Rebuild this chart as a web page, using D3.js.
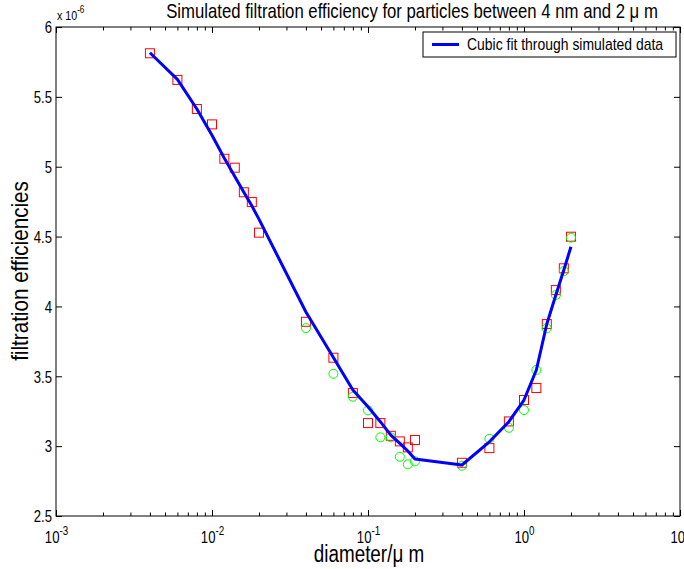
<!DOCTYPE html>
<html>
<head>
<meta charset="utf-8">
<script src="https://cdn.jsdelivr.net/npm/d3@7"></script>
<style>
  html, body { margin: 0; padding: 0; background: #fff; }
  svg { display: block; }
  svg text { font-family: Arial, "Liberation Sans", Helvetica, sans-serif; }
</style>
</head>
<body>
<svg id="chart" width="684" height="569"></svg>
<script>
// ---- data (efficiencies in units of 1e-6) ----
const diameters = [0.004,0.006,0.008,0.01,0.012,0.014,0.016,0.018,0.02,0.04,0.06,0.08,0.1,0.12,0.14,0.16,0.18,0.2,0.4,0.6,0.8,1.0,1.2,1.4,1.6,1.8,2.0];
const redValues = [5.812,5.621,5.413,5.303,5.057,4.993,4.817,4.747,4.528,3.890,3.633,3.380,3.165,3.165,3.074,3.034,2.991,3.044,2.881,2.986,3.177,3.330,3.416,3.874,4.117,4.273,4.499];
const greenDiameters = [0.04,0.06,0.08,0.1,0.12,0.14,0.16,0.18,0.2,0.4,0.6,0.8,1.0,1.2,1.4,1.6,1.8,2.0];
const greenValues = [3.845,3.518,3.354,3.256,3.063,3.063,2.924,2.870,2.891,2.860,3.053,3.131,3.258,3.545,3.843,4.082,4.253,4.492];
const fitValues = [5.816,5.625,5.413,5.225,5.060,4.930,4.817,4.720,4.625,3.960,3.635,3.402,3.282,3.175,3.079,3.020,2.965,2.908,2.865,3.031,3.175,3.330,3.545,3.874,4.082,4.261,4.427];
const xMajorTicks = [1e-3,1e-2,1e-1,1e0,1e1];
const xTickExponents = ["-3","-2","-1","0","1"];
const yTicks = [2.5,3,3.5,4,4.5,5,5.5,6];
const yTickLabels = ["2.5","3","3.5","4","4.5","5","5.5","6"];
const titleText = "Simulated filtration efficiency for particles between 4 nm and 2 \u03bc m";
const xLabelText = "diameter/\u03bc m";
const yLabelText = "filtration efficiencies";
const legendText = "Cubic fit through simulated data";

const svg = d3.select("#chart");
const L = 56, R = 680, T = 27, B = 516;
const NARROW = 0.82; // the reference uses a condensed Helvetica

function condense(sel, factor) {
  const f = factor || NARROW;
  sel.each(function() {
    const w = this.getComputedTextLength();
    this.setAttribute("textLength", (w * f).toFixed(2));
    this.setAttribute("lengthAdjust", "spacingAndGlyphs");
  });
}

const x = d3.scaleLog().domain([1e-3, 1e1]).range([L, R]);
const y = d3.scaleLinear().domain([2.5, 6]).range([B, T]);

// minor ticks
const xMinor = [];
for (let e = -3; e < 1; e++) for (let k = 2; k <= 9; k++) xMinor.push(k * Math.pow(10, e));

// ---- axes ----
const gBottom = svg.append("g").attr("transform", `translate(0,${B})`)
  .call(d3.axisBottom(x).tickValues(xMajorTicks).tickSize(-6).tickSizeOuter(0).tickFormat(""));
svg.append("g").attr("transform", `translate(0,${B})`)
  .call(d3.axisBottom(x).tickValues(xMinor).tickSize(-3.5).tickSizeOuter(0).tickFormat(""));
svg.append("g").attr("transform", `translate(0,${T})`)
  .call(d3.axisTop(x).tickValues(xMajorTicks).tickSize(-6).tickSizeOuter(0).tickFormat(""));
svg.append("g").attr("transform", `translate(0,${T})`)
  .call(d3.axisTop(x).tickValues(xMinor).tickSize(-3.5).tickSizeOuter(0).tickFormat(""));
const gLeft = svg.append("g").attr("transform", `translate(${L},0)`)
  .call(d3.axisLeft(y).tickValues(yTicks).tickSize(-6).tickSizeOuter(0)
    .tickFormat((d, i) => yTickLabels[i]));
svg.append("g").attr("transform", `translate(${R},0)`)
  .call(d3.axisRight(y).tickValues(yTicks).tickSize(-6).tickSizeOuter(0).tickFormat(""));

svg.selectAll(".domain").remove();
svg.selectAll(".tick line").attr("stroke", "#000").attr("stroke-width", 1);
gLeft.selectAll("text").attr("font-size", 16).attr("fill", "#000")
  .attr("font-family", null)
  .attr("dy", "0.36em").attr("x", -4)
  .call(condense);

// x tick labels with superscripts
gBottom.selectAll(".tick").each(function(d, i) {
  const t = d3.select(this).append("text")
    .attr("y", 27).attr("fill", "#000").attr("text-anchor", "middle")
    .attr("font-size", 16);
  t.append("tspan").text("10");
  t.append("tspan").attr("dy", -8).attr("font-size", 12).text(xTickExponents[i]);
  t.call(condense);
});

// box
svg.append("rect").attr("x", L).attr("y", T).attr("width", R - L).attr("height", B - T)
  .attr("fill", "none").attr("stroke", "#000").attr("stroke-width", 1);

// multiplier label
const mult = svg.append("text").attr("x", 57).attr("y", 20).attr("font-size", 13).attr("fill", "#000");
mult.append("tspan").text("x 10");
mult.append("tspan").attr("dy", -7).attr("font-size", 10).text("-6");
mult.call(condense);

// ---- marks ----
const plot = svg.append("g");
const sq = 9;
plot.selectAll("rect.red").data(diameters).enter().append("rect").attr("class", "red")
  .attr("x", (d) => x(d) - sq / 2)
  .attr("y", (d, i) => y(redValues[i]) - sq / 2)
  .attr("width", sq).attr("height", sq)
  .attr("fill", "none").attr("stroke", "#ff0000").attr("stroke-width", 1);

plot.selectAll("circle.green").data(greenDiameters).enter().append("circle").attr("class", "green")
  .attr("cx", (d) => x(d))
  .attr("cy", (d, i) => y(greenValues[i]))
  .attr("r", 4.5)
  .attr("fill", "none").attr("stroke", "#00ff00").attr("stroke-width", 1);

const line = d3.line().x((d) => x(d[0])).y((d) => y(d[1]));
plot.append("path").datum(diameters.map((d, i) => [d, fitValues[i]]))
  .attr("d", line).attr("fill", "none").attr("stroke", "#0000ff").attr("stroke-width", 3)
  .attr("stroke-linejoin", "round");

// ---- legend ----
svg.append("rect").attr("x", 423).attr("y", 32).attr("width", 253).attr("height", 25)
  .attr("fill", "#fff").attr("stroke", "#000").attr("stroke-width", 1);
svg.append("line").attr("x1", 432).attr("x2", 459).attr("y1", 44.5).attr("y2", 44.5)
  .attr("stroke", "#0000ff").attr("stroke-width", 3);
svg.append("text").attr("x", 467).attr("y", 50).attr("font-size", 17).attr("fill", "#000")
  .text(legendText).call(condense);

// ---- titles ----
svg.append("text").attr("x", 412).attr("y", 18).attr("text-anchor", "middle")
  .attr("font-size", 20.4).attr("fill", "#000").text(titleText).call(condense);
svg.append("text").attr("x", 369).attr("y", 562).attr("text-anchor", "middle")
  .attr("font-size", 23).attr("fill", "#000").text(xLabelText).call(condense);
svg.append("text").attr("transform", "translate(28,271) rotate(-90)").attr("text-anchor", "middle")
  .attr("font-size", 24).attr("fill", "#000").text(yLabelText).call(condense, 0.86);
</script>
</body>
</html>
